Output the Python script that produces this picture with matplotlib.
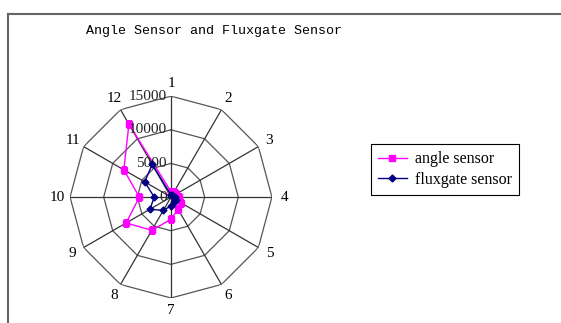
import numpy as np
import matplotlib
matplotlib.use('Agg')
from matplotlib import pyplot as plt
from matplotlib.lines import Line2D

# chart data
categories = ['1', '2', '3', '4', '5', '6', '7', '8', '9', '10', '11', '12']
angle_sensor = [800, 900, 900, 1200, 1800, 2100, 3300, 5700, 7700, 4700, 8100, 12500]
fluxgate_sensor = [300, 300, 400, 600, 800, 900, 1300, 2300, 3600, 2500, 4500, 5600]
rings = [0, 5000, 10000, 15000]
title = 'Angle Sensor and Fluxgate Sensor'

n = len(categories)
theta = np.arange(n) * 2 * np.pi / n
theta_c = np.append(theta, theta[0])


def closed(vals):
    return np.append(vals, vals[0])


fig = plt.figure(figsize=(5.61, 3.23), dpi=100)
ax = fig.add_axes([0.1248, 0.0774, 0.360, 0.625], projection='polar')
ax.set_theta_zero_location('N')
ax.set_theta_direction(-1)
ax.set_ylim(0, rings[-1])
ax.grid(False)
ax.spines['polar'].set_visible(False)
ax.set_xticks([])
ax.set_yticks([])
ax.patch.set_alpha(0)

# polygon grid
for r in rings[1:]:
    ax.plot(theta_c, [r] * (n + 1), color='#555555', lw=0.9, zorder=1)
for t in theta:
    ax.plot([t, t], [0, rings[-1]], color='#333333', lw=0.9, zorder=1)

# series
ax.plot(theta_c, closed(angle_sensor), color='#FF00FF', lw=1,
        marker='s', ms=4.5, label='angle sensor', zorder=3)
ax.plot(theta_c, closed(fluxgate_sensor), color='#000080', lw=1,
        marker='D', ms=3.5, label='fluxgate sensor', zorder=4)

# category labels
for t, lab in zip(theta, categories):
    ax.text(t, 16900, lab, ha='center', va='center', fontsize=11,
            family='Liberation Serif', clip_on=False)

# ring labels along spoke 1
for r in rings:
    ax.annotate(str(r), xy=(0, r), xytext=(-4, 0), textcoords='offset pixels',
                ha='right', va='center', fontsize=11,
                family='Liberation Serif', color='#222222')

fig.text(0.382, 0.904, title, ha='center', va='center', fontsize=9.6,
         family='Liberation Mono')

# chart area border (top and left only)
fig.add_artist(Line2D([0.0143, 1.0], [0.9567, 0.9567], color='#666666', lw=1.5))
fig.add_artist(Line2D([0.0143, 0.0143], [0.0, 0.9567], color='#666666', lw=1.5))

leg = fig.legend(loc='upper left', bbox_to_anchor=(0.661, 0.554),
                 borderaxespad=0, fancybox=False, shadow=False,
                 framealpha=1, edgecolor='black',
                 prop={'family': 'Liberation Serif', 'size': 11.5},
                 handlelength=1.8, handletextpad=0.5, labelspacing=0.3,
                 borderpad=0.45)
leg.get_frame().set_linewidth(0.8)

fig.savefig('out.png', dpi=100)
